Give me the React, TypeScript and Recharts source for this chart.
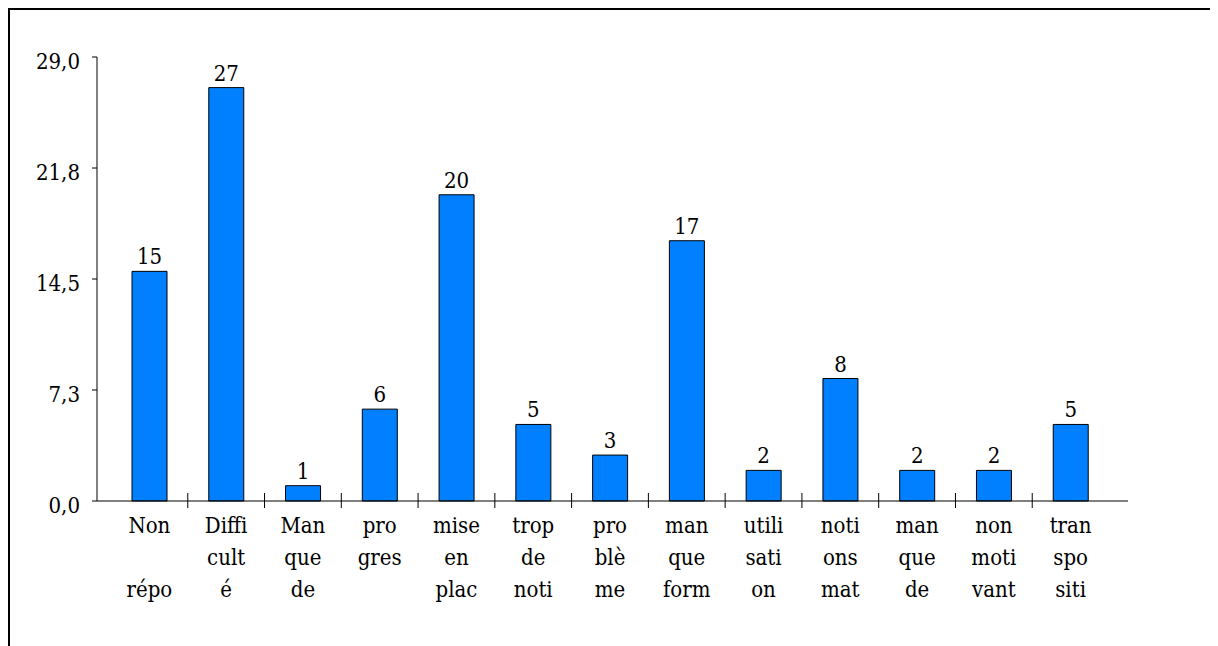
import { BarChart, Bar, XAxis, YAxis, LabelList } from "recharts";

// category labels as shown under each bar (one entry per line)
const categories = [
  "Non\n\nrépo",
  "Diffi\ncult\né",
  "Man\nque\nde",
  "pro\ngres",
  "mise\nen\nplac",
  "trop\nde\nnoti",
  "pro\nblè\nme",
  "man\nque\nform",
  "utili\nsati\non",
  "noti\nons\nmat",
  "man\nque\nde ",
  "non\nmoti\nvant",
  "tran\nspo\nsiti",
];

const values = [15, 27, 1, 6, 20, 5, 3, 17, 2, 8, 2, 2, 5];

const yTicks = [0, 7.25, 14.5, 21.75, 29];

const data = categories.map((name, i) => ({ name, value: values[i] }));

const FONT = "'DejaVu Serif Condensed', monospace";
const FS = 22;
const PLOT_W = 1031;
const PAD_L = 14;
const PAD_R = 19;
const BAND = (PLOT_W - PAD_L - PAD_R) / categories.length;

const fmt = (v: number) => v.toFixed(1).replace(".", ",");

function YTick(props: any) {
  const { x, y, payload } = props;
  return (
    <text
      x={x}
      y={y + 4}
      dy="0.355em"
      textAnchor="end"
      style={{ fontFamily: FONT, fontSize: FS, fill: "#000" }}
    >
      {fmt(payload.value)}
    </text>
  );
}

function XTick(props: any) {
  const { x, y, payload, index } = props;
  const lines = String(payload.value).split("\n");
  return (
    <g>
      {index > 0 && (
        <line
          x1={x - BAND / 2}
          x2={x - BAND / 2}
          y1={y - 8}
          y2={y + 7}
          stroke="#000"
          strokeWidth={1}
        />
      )}
      <text
        textAnchor="middle"
        style={{ fontFamily: FONT, fontSize: FS, fill: "#000" }}
      >
        {lines.map((l, i) => (
          <tspan key={i} x={x} y={y + 32 + i * 32}>
            {l}
          </tspan>
        ))}
      </text>
    </g>
  );
}

export default function App() {
  return (
    <div
      style={{
        width: 1208,
        height: 636,
        borderLeft: "2px solid #000",
        borderTop: "2px solid #000",
        background: "#fff",
      }}
    >
      <BarChart
        width={1208}
        height={636}
        data={data}
        margin={{ top: 47, right: 90, bottom: 0, left: 0 }}
      >
        <XAxis
          dataKey="name"
          height={145}
          interval={0}
          padding={{ left: PAD_L, right: PAD_R }}
          tickLine={false}
          tickSize={0}
          tickMargin={0}
          axisLine={{ stroke: "#000" }}
          tick={<XTick />}
        />
        <XAxis
          xAxisId="top"
          dataKey="name"
          orientation="top"
          height={0}
          tick={false}
          tickLine={false}
          axisLine={{ stroke: "#000" }}
        />
        <YAxis
          width={87}
          domain={[0, 29]}
          ticks={yTicks}
          interval={0}
          tickSize={5}
          tickMargin={12}
          tickLine={{ stroke: "#000" }}
          axisLine={{ stroke: "#000" }}
          tick={<YTick />}
        />
        <YAxis
          yAxisId="right"
          orientation="right"
          width={0}
          domain={[0, 29]}
          tick={false}
          tickLine={false}
          axisLine={{ stroke: "#000" }}
        />
        <Bar
          dataKey="value"
          fill="#0080ff"
          stroke="#000"
          strokeWidth={1}
          barSize={35}
          isAnimationActive={false}
        >
          <LabelList
            dataKey="value"
            position="top"
            offset={7}
            style={{ fontFamily: FONT, fontSize: FS, fill: "#000" }}
          />
        </Bar>
      </BarChart>
    </div>
  );
}
